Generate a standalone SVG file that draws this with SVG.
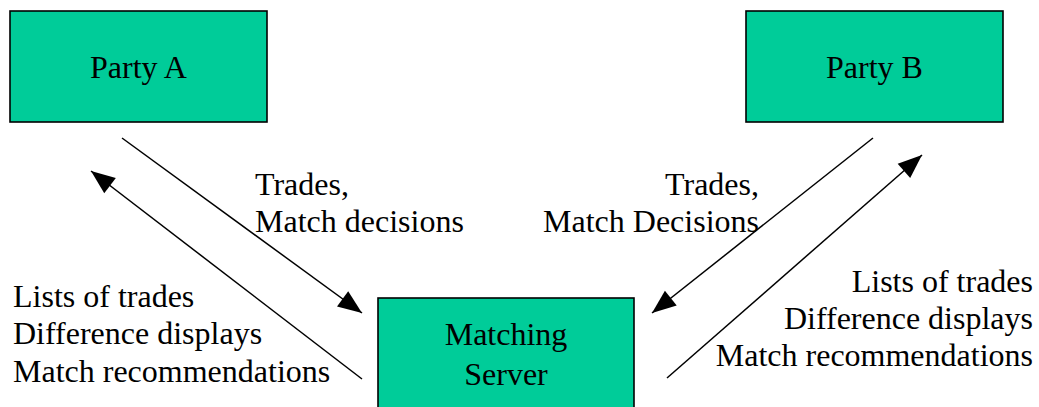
<svg xmlns="http://www.w3.org/2000/svg" width="1039" height="407" viewBox="0 0 1039 407">
<style>
.box{fill:#00CC99;stroke:#000;stroke-width:1.6}
.t{font-family:"Liberation Serif","Times New Roman",serif;font-size:32px;fill:#000}
.c{stroke:#000;stroke-width:1.5;fill:none;marker-end:url(#ah)}
</style>
<defs>
<marker id="ah" viewBox="-25 -10 26 20" refX="0" refY="0" markerWidth="26" markerHeight="20" orient="auto" markerUnits="userSpaceOnUse">
<path d="M0,0 L-24,-9.5 L-24,9.5 Z" fill="#000"/>
</marker>
</defs>
<rect width="1039" height="407" fill="#fff"/>
<g id="partyA">
<rect class="box" x="10" y="11" width="257" height="111"/>
<text class="t" x="138.5" y="78" text-anchor="middle">Party A</text>
</g>
<g id="partyB">
<rect class="box" x="746" y="11" width="257" height="111"/>
<text class="t" x="874.5" y="78" text-anchor="middle">Party B</text>
</g>
<g id="server">
<rect class="box" x="378" y="298" width="256" height="130"/>
<text class="t" x="506" y="345" text-anchor="middle">Matching</text>
<text class="t" x="506" y="385" text-anchor="middle">Server</text>
</g>
<g id="connectors">
<line class="c" x1="122" y1="138" x2="362" y2="313"/>
<line class="c" x1="362" y1="379" x2="91" y2="171"/>
<line class="c" x1="873" y1="138" x2="652" y2="313"/>
<line class="c" x1="667" y1="378" x2="922" y2="155"/>
</g>
<g id="labels">
<text class="t" x="255" y="195">Trades,</text>
<text class="t" x="255" y="232">Match decisions</text>
<text class="t" x="759" y="195" text-anchor="end">Trades,</text>
<text class="t" x="759" y="232" text-anchor="end">Match Decisions</text>
<text class="t" x="13" y="307">Lists of trades</text>
<text class="t" x="13" y="344">Difference displays</text>
<text class="t" x="13" y="382">Match recommendations</text>
<text class="t" x="1033" y="292" text-anchor="end">Lists of trades</text>
<text class="t" x="1033" y="329" text-anchor="end">Difference displays</text>
<text class="t" x="1033" y="366" text-anchor="end">Match recommendations</text>
</g>
</svg>
